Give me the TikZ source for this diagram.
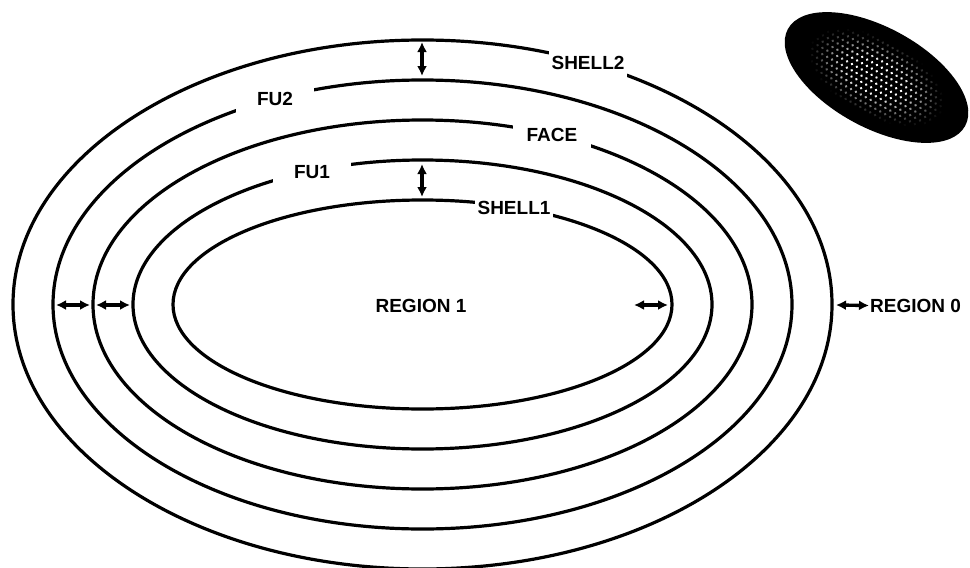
\documentclass[tikz,border=0pt]{standalone}
\usepackage{fontspec}
\setmainfont{Liberation Sans}
\usetikzlibrary{arrows.meta}
\begin{document}
\begin{tikzpicture}[x=1pt,y=-1pt,
  ring/.style={line width=3.2pt},
  dbl/.style={line width=3.4pt,{Latex[length=10pt,width=10pt]}-{Latex[length=10pt,width=10pt]}},
  lbl/.style={font=\fontsize{19}{19}\selectfont\bfseries,fill=white,minimum width=78,minimum height=30,inner sep=0pt},
  txt/.style={font=\fontsize{19}{19}\selectfont\bfseries,inner sep=1pt}]
\useasboundingbox (0,0) rectangle (970,568);
\clip (0,0) rectangle (970,568);
\coordinate (c) at (422.5,304.5);
% concentric ellipses
\draw[ring] (c) ellipse [x radius=409.5, y radius=264.5];
\draw[ring] (c) ellipse [x radius=369.5, y radius=224.5];
\draw[ring] (c) ellipse [x radius=329.5, y radius=184.5];
\draw[ring] (c) ellipse [x radius=289.5, y radius=144.5];
\draw[ring] (c) ellipse [x radius=249.5, y radius=104.5];
% labels sitting in gaps of the lines
\node[lbl] (shell2) at (588,63) {SHELL2};
\node[lbl] (fu2) at (275,99) {FU2};
\node[lbl] (face) at (552,135) {FACE};
\node[lbl] (fu1) at (312,172) {FU1};
\node[lbl] (shell1) at (514,208) {SHELL1};
\node[txt] (reg1) at (421,305.5) {REGION 1};
\node[txt,anchor=west] (reg0) at (869,305.5) {REGION 0};
% arrow end points
\coordinate (v1a) at (422,42);
\coordinate (v1b) at (422,76);
\coordinate (v2a) at (422,164);
\coordinate (v2b) at (422,197);
\coordinate (l1a) at (56,305);
\coordinate (l1b) at (90,305);
\coordinate (l2a) at (96,305);
\coordinate (l2b) at (130,305);
\coordinate (r1a) at (634,305);
\coordinate (r1b) at (668,305);
\coordinate (r0a) at (836,305);
\draw[dbl] (v1a) -- (v1b);
\draw[dbl] (v2a) -- (v2b);
\draw[dbl] (l1a) -- (l1b);
\draw[dbl] (l2a) -- (l2b);
\draw[dbl] (r1a) -- (r1b);
\draw[dbl] (r0a) -- (reg0.west);
% dark ellipse top right
\fill[black, rotate around={-28.7:(876.5,77.5)}] (876.5,77.5) ellipse [x radius=101, y radius=50];
\begin{scope}[shift={(876.5,77.5)}, rotate=-28.7]
  \foreach \i in {-13,...,13} {
    \foreach \j in {-7,...,7} {
      \pgfmathsetmacro\u{\i*5.6+mod(\j+20,2)*2.8}
      \pgfmathsetmacro\v{\j*5.6}
      \pgfmathsetmacro\r{sqrt((\u/74)^2+(\v/38)^2)}
      \pgfmathsetmacro\b{max(0,min(100,170*(1-\r)))}
      \ifdim\r pt<1pt
        \fill[white!\b!black] (\u,\v) circle[radius=1.4];
      \fi
    }
  }
\end{scope}
\end{tikzpicture}
\end{document}
